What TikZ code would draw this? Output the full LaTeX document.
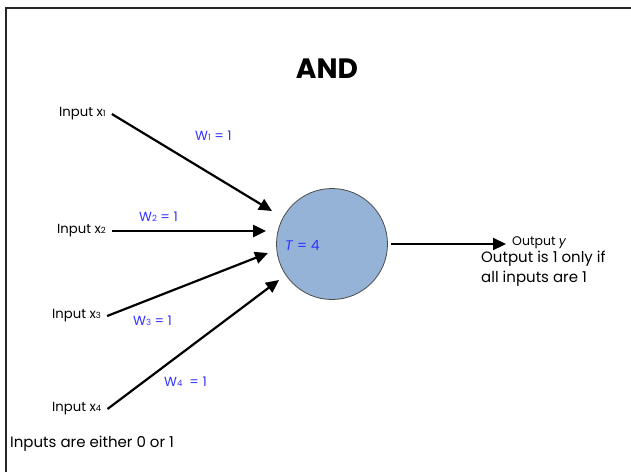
\documentclass[tikz,border=0pt]{standalone}
\usepackage{fontspec}
\setmainfont{Poppins}
\usetikzlibrary{arrows.meta}
\definecolor{wblue}{RGB}{51,51,255}
\definecolor{cfill}{RGB}{149,179,215}
\newcommand{\sbx}[1]{{\fontsize{8.5}{9}\selectfont #1}}
\begin{document}
\begin{tikzpicture}[x=1pt,y=-1pt,
  lbl/.style={inner sep=0pt, anchor=west, font=\fontsize{13.2}{15}\selectfont},
  wt/.style={inner sep=0pt, anchor=west, text=wblue, font=\fontsize{13.2}{15}\selectfont},
  note/.style={inner sep=0pt, anchor=west, align=left, font=\fontsize{15}{20}\selectfont},
  arr/.style={line width=2.2pt, -{Triangle[length=13pt,width=12pt]}}]
\useasboundingbox (0,0) rectangle (631,472);
\draw[line width=2pt, black!85] (6,472) -- (6,8) -- (631,8);
\node[font=\fontsize{28}{30}\selectfont\bfseries] (title) at (327,69) {AND};
\node[circle, draw=black!70, fill=cfill, minimum size=111pt, inner sep=0pt, line width=0.8pt] (neuron) at (332,244) {};
\node[inner sep=0pt, anchor=west, text=wblue, font=\fontsize{14}{15}\selectfont] (thr) at (285,245) {\textit{T} = 4};
\node[lbl] (in1) at (59,114) {Input x\sbx{1}};
\node[lbl] (in2) at (57,231) {Input x\sbx{2}};
\node[lbl] (in3) at (52,316) {Input x\sbx{3}};
\node[lbl] (in4) at (52,409) {Input x\sbx{4}};
\coordinate (e1) at (272,211);
\coordinate (e3) at (268,253);
\coordinate (e4) at (279,280);
\draw[arr] ([xshift=6pt]in1.east) -- (e1);
\draw[arr] ([xshift=6pt]in2.east) -- ([xshift=-10pt]neuron.west |- in2.east);
\draw[arr] ([xshift=6pt]in3.east) -- (e3);
\draw[arr] ([xshift=6pt]in4.east) -- (e4);
\node[wt] (w1) at (195,136) {W\sbx{1} = 1};
\node[wt] (w2) at (139,217) {W\sbx{2} = 1};
\node[wt] (w3) at (133,321) {W\sbx{3} = 1};
\node[wt] (w4) at (164,382) {W\sbx{4}\ \ = 1};
\node[lbl, font=\fontsize{12.5}{14}\selectfont] (out) at (512,243) {Output \textit{y}};
\draw[arr] ([xshift=3pt]neuron.east) -- ([xshift=-6pt]neuron.east -| out.west);
\node[note, anchor=north west] (onote) at (481,251) {Output is 1 only if\\all inputs are 1};
\node[note] (inote) at (10,444) {Inputs are either 0 or 1};
\end{tikzpicture}
\end{document}
